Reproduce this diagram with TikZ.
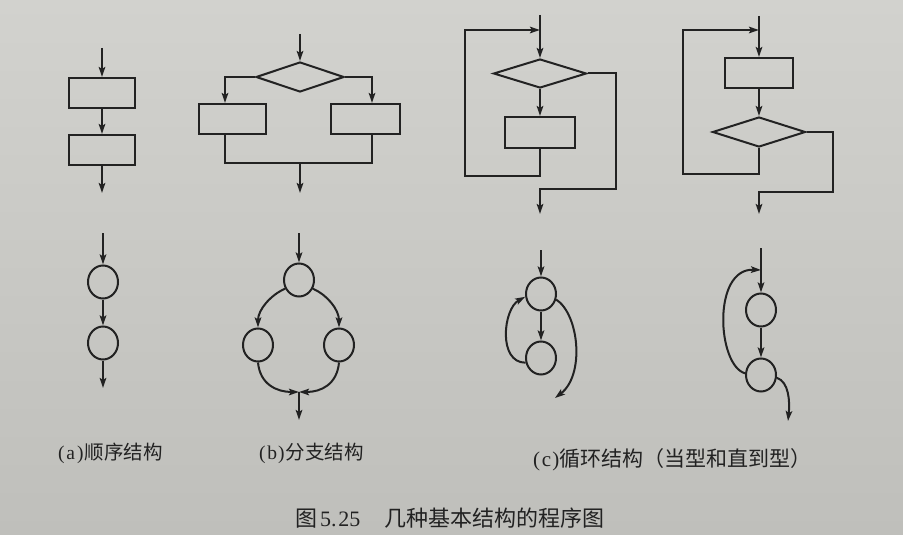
\documentclass[tikz,border=0pt]{standalone}
\usepackage{fontspec}
\setmainfont{Liberation Serif}
\newfontfamily\cjk{Noto Sans CJK SC}
\usetikzlibrary{arrows.meta,shapes.geometric,calc}
\definecolor{ink}{RGB}{34,34,34}
\definecolor{bgtop}{RGB}{210,210,206}
\definecolor{bgbot}{RGB}{191,191,187}
\begin{document}
\begin{tikzpicture}[x=1pt,y=-1pt,line width=2pt,draw=ink,
  box/.style={draw,rectangle,minimum width=67pt,minimum height=30pt,inner sep=0pt},
  dia/.style={draw,diamond,aspect=3,minimum width=90pt,minimum height=30pt,inner sep=0pt},
  circ/.style={draw,ellipse,minimum width=30pt,minimum height=33pt,inner sep=0pt},
  arr/.style={-{Stealth[length=10pt,width=6.5pt,inset=2pt]}},
  lbl/.style={inner sep=0pt,anchor=west,text=ink,font=\fontsize{19.5}{22}\selectfont}]
\shade[top color=bgtop,bottom color=bgbot] (0,0) rectangle (903,535);
\useasboundingbox (0,0) rectangle (903,535);

% (a) sequence, flowchart
\coordinate (a0) at (102,48);
\node[box,minimum width=66pt] (a1) at (102,93) {};
\node[box,minimum width=66pt] (a2) at (102,150) {};
\coordinate (a3) at (102,193);
\draw[arr] (a0) -- (a1);
\draw[arr] (a1) -- (a2);
\draw[arr] (a2) -- (a3);

% (b) branch, flowchart
\coordinate (b0) at (300,34);
\node[dia,minimum width=88pt] (bd) at (300,77) {};
\node[box] (bl) at (232.5,119) {};
\node[box,minimum width=69pt] (br) at (365.5,119) {};
\coordinate (bj) at (300,163);
\coordinate (b9) at (300,193);
\draw[arr] (b0) -- (bd);
\draw[arr] (bd.west) -| ([xshift=-7.5pt]bl.north);
\draw[arr] (bd.east) -| ([xshift=6.5pt]br.north);
\draw ([xshift=-7.5pt]bl.south) |- (bj) -| ([xshift=6.5pt]br.south);
\draw[arr] (bj) -- (b9);

% (c) while loop, flowchart
\coordinate (c0) at (540,15);
\coordinate (cin) at (540,30);
\node[dia,minimum width=93pt,minimum height=29pt] (cd) at (540,73.5) {};
\node[box,minimum width=70pt,minimum height=31pt] (cb) at (540,132.5) {};
\coordinate (cl) at (465,176);
\coordinate (cr) at (616,189);
\coordinate (c9) at (540,214);
\draw (c0) -- (cin);
\draw[arr] (cin) -- (cd);
\draw[arr] (cd) -- (cb);
\draw[arr] (cb.south) |- (cl) |- (cin);
\draw[arr] (cd.east) -| (cr) -| (c9);

% (c) until loop, flowchart
\coordinate (d0) at (759,16);
\coordinate (din) at (759,30);
\node[box,minimum width=68pt] (db) at (759,73) {};
\node[dia,minimum width=93pt] (dd) at (759,132) {};
\coordinate (dl) at (683,174);
\coordinate (dr) at (833,192);
\coordinate (d9) at (759,214);
\draw (d0) -- (din);
\draw[arr] (din) -- (db);
\draw[arr] (db) -- (dd);
\draw[arr] (dd.south) |- (dl) |- (din);
\draw[arr] (dd.east) -| (dr) -| (d9);

% (a) sequence, graph
\coordinate (e0) at (103,233);
\node[circ] (e1) at (103,282) {};
\node[circ] (e2) at (103,343) {};
\coordinate (e3) at (103,388);
\draw[arr] (e0) -- (e1);
\draw[arr] (e1) -- (e2);
\draw[arr] (e2) -- (e3);

% (b) branch, graph
\coordinate (f0) at (299,233);
\node[circ] (f1) at (299,280) {};
\node[circ] (fl) at (258,345) {};
\node[circ] (fr) at (339,345) {};
\coordinate (fj) at (299,392);
\coordinate (f9) at (299,420);
\draw[arr] (f0) -- (f1);
\draw[arr] (f1.212) .. controls +(-14,6) and +(0,-18) .. (fl.north);
\draw[arr] (f1.328) .. controls +(14,6) and +(0,-18) .. (fr.north);
\draw[arr] (fl.south) .. controls +(2,22) and +(-22,0) .. (fj);
\draw[arr] (fr.south) .. controls +(-2,22) and +(22,0) .. (fj);
\draw[arr] (fj) -- (f9);

% (c) while loop, graph
\coordinate (g0) at (541,250);
\node[circ] (g1) at (541,294) {};
\node[circ] (g2) at (541,358) {};
\coordinate (g9) at (555,398);
\draw[arr] (g0) -- (g1);
\draw[arr] (g1) -- (g2);
\draw[arr] (g2.197) .. controls +(-28,0) and +(-22,12) .. (g1.190);
\draw[arr] (g1.340) .. controls +(23,15) and +(30,-23) .. (g9);

% (c) until loop, graph
\coordinate (h0) at (761,248);
\coordinate (hin) at (761,270);
\node[circ] (h1) at (761,310) {};
\node[circ] (h2) at (761,375) {};
\coordinate (h9) at (788,421);
\draw (h0) -- (hin);
\draw[arr] (hin) -- (h1);
\draw[arr] (h1) -- (h2);
\draw[arr] (h2.174) .. controls +(-28,-8) and +(-49,-2) .. (hin);
\draw[arr] (h2.-10) .. controls +(12,4) and +(2,-20) .. (h9);

% captions
\node[lbl] (la) at (57,453) {(\kern2pt a\kern2pt)\kern1pt\cjk 顺序结构};
\node[lbl] (lb) at (258,453) {(\kern2pt b\kern1pt)\kern1pt\cjk 分支结构};
\node[lbl,font=\fontsize{21}{24}\selectfont] (lc) at (532,460) {(\kern2pt c\kern1pt)\cjk 循环结构（当型和直到型）};
\node[lbl,font=\fontsize{22}{25}\selectfont] (lf) at (294,518) {\cjk 图\kern3pt\rmfamily 5.\kern2pt 25\hspace{24pt}\cjk 几种基本结构的程序图};
\end{tikzpicture}
\end{document}
